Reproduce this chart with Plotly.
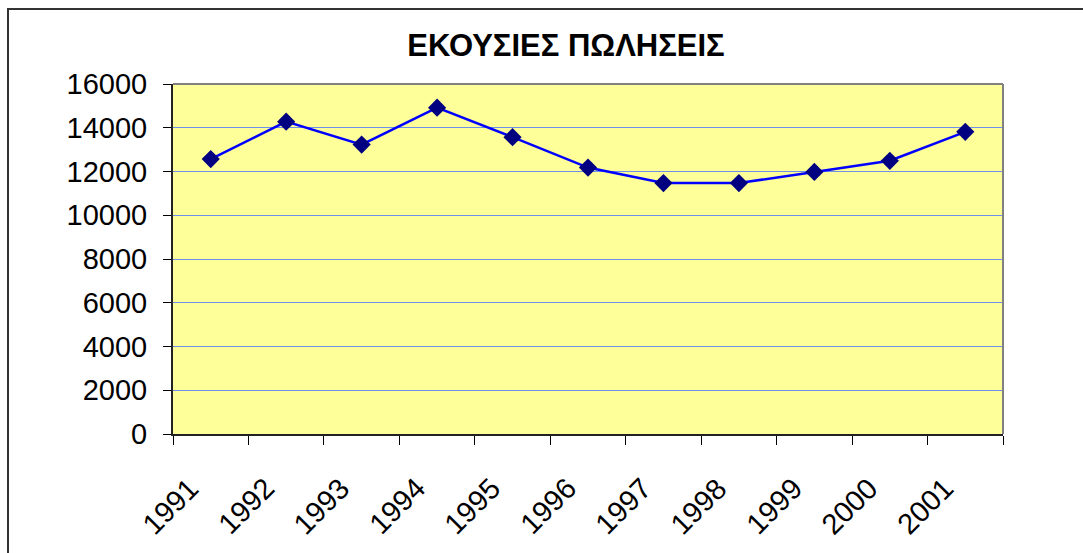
import plotly.graph_objects as go

years = ["1991", "1992", "1993", "1994", "1995", "1996", "1997", "1998", "1999", "2000", "2001"]
sales = [12570, 14280, 13230, 14920, 13570, 12180, 11470, 11470, 11980, 12490, 13815]
y_ticks = [0, 2000, 4000, 6000, 8000, 10000, 12000, 14000, 16000]

FONT = "Liberation Sans, Arial, sans-serif"

fig = go.Figure()
fig.add_trace(go.Scatter(
    x=years, y=sales, mode="lines+markers",
    line=dict(color="#0000FF", width=2.5),
    marker=dict(symbol="diamond", size=14, color="#000080", line=dict(width=0)),
    cliponaxis=False,
))

annotations = [
    dict(x=i, y=0, xref="x", yref="y", text=yr, showarrow=False, textangle=-45,
         xanchor="center", yanchor="middle", xshift=-40, yshift=-72,
         font=dict(family=FONT, size=29, color="black"))
    for i, yr in enumerate(years)
]

fig.update_layout(
    width=1083, height=553,
    margin=dict(l=173, r=80, t=84, b=119),
    paper_bgcolor="white",
    plot_bgcolor="#FFFF99",
    showlegend=False,
    title=dict(text="<b>ΕΚΟΥΣΙΕΣ ΠΩΛΗΣΕΙΣ</b>", x=566/1083, xanchor="center",
               y=1 - 45/553, yanchor="middle", font=dict(family=FONT, size=31, color="black")),
    font=dict(family=FONT, color="black"),
    annotations=annotations,
    xaxis=dict(
        type="category", tickson="boundaries", ticks="outside", ticklen=9,
        tickcolor="black", tickwidth=1, showticklabels=False, showgrid=False,
        showline=True, linecolor="#222222", linewidth=2,
        range=[-0.5, 10.5],
    ),
    yaxis=dict(
        range=[0, 16000], tickvals=y_ticks, ticktext=[str(v) for v in y_ticks],
        ticks="outside", ticklen=8,
        tickcolor="black", tickwidth=1, tickfont=dict(size=29),
        showgrid=True, gridcolor="#6E90E6", gridwidth=1,
        showline=True, linecolor="#222222", linewidth=2, zeroline=False,
        ticklabelstandoff=10,
    ),
    shapes=[
        dict(type="line", xref="paper", yref="paper", x0=0, x1=1, y0=1, y1=1,
             line=dict(color="#808080", width=2), layer="above"),
        dict(type="line", xref="paper", yref="paper", x0=1, x1=1, y0=0, y1=1,
             line=dict(color="#808080", width=2), layer="above"),
        dict(type="rect", xref="paper", yref="paper",
             x0=(8 - 173) / 830, x1=(1100 - 173) / 830,
             y0=(434 - 570) / 350, y1=(434 - 9) / 350,
             line=dict(color="#333333", width=2), layer="above"),
    ],
)

fig.write_html("out.html", config={"displayModeBar": False},
               post_script="document.body.style.margin='0';")
